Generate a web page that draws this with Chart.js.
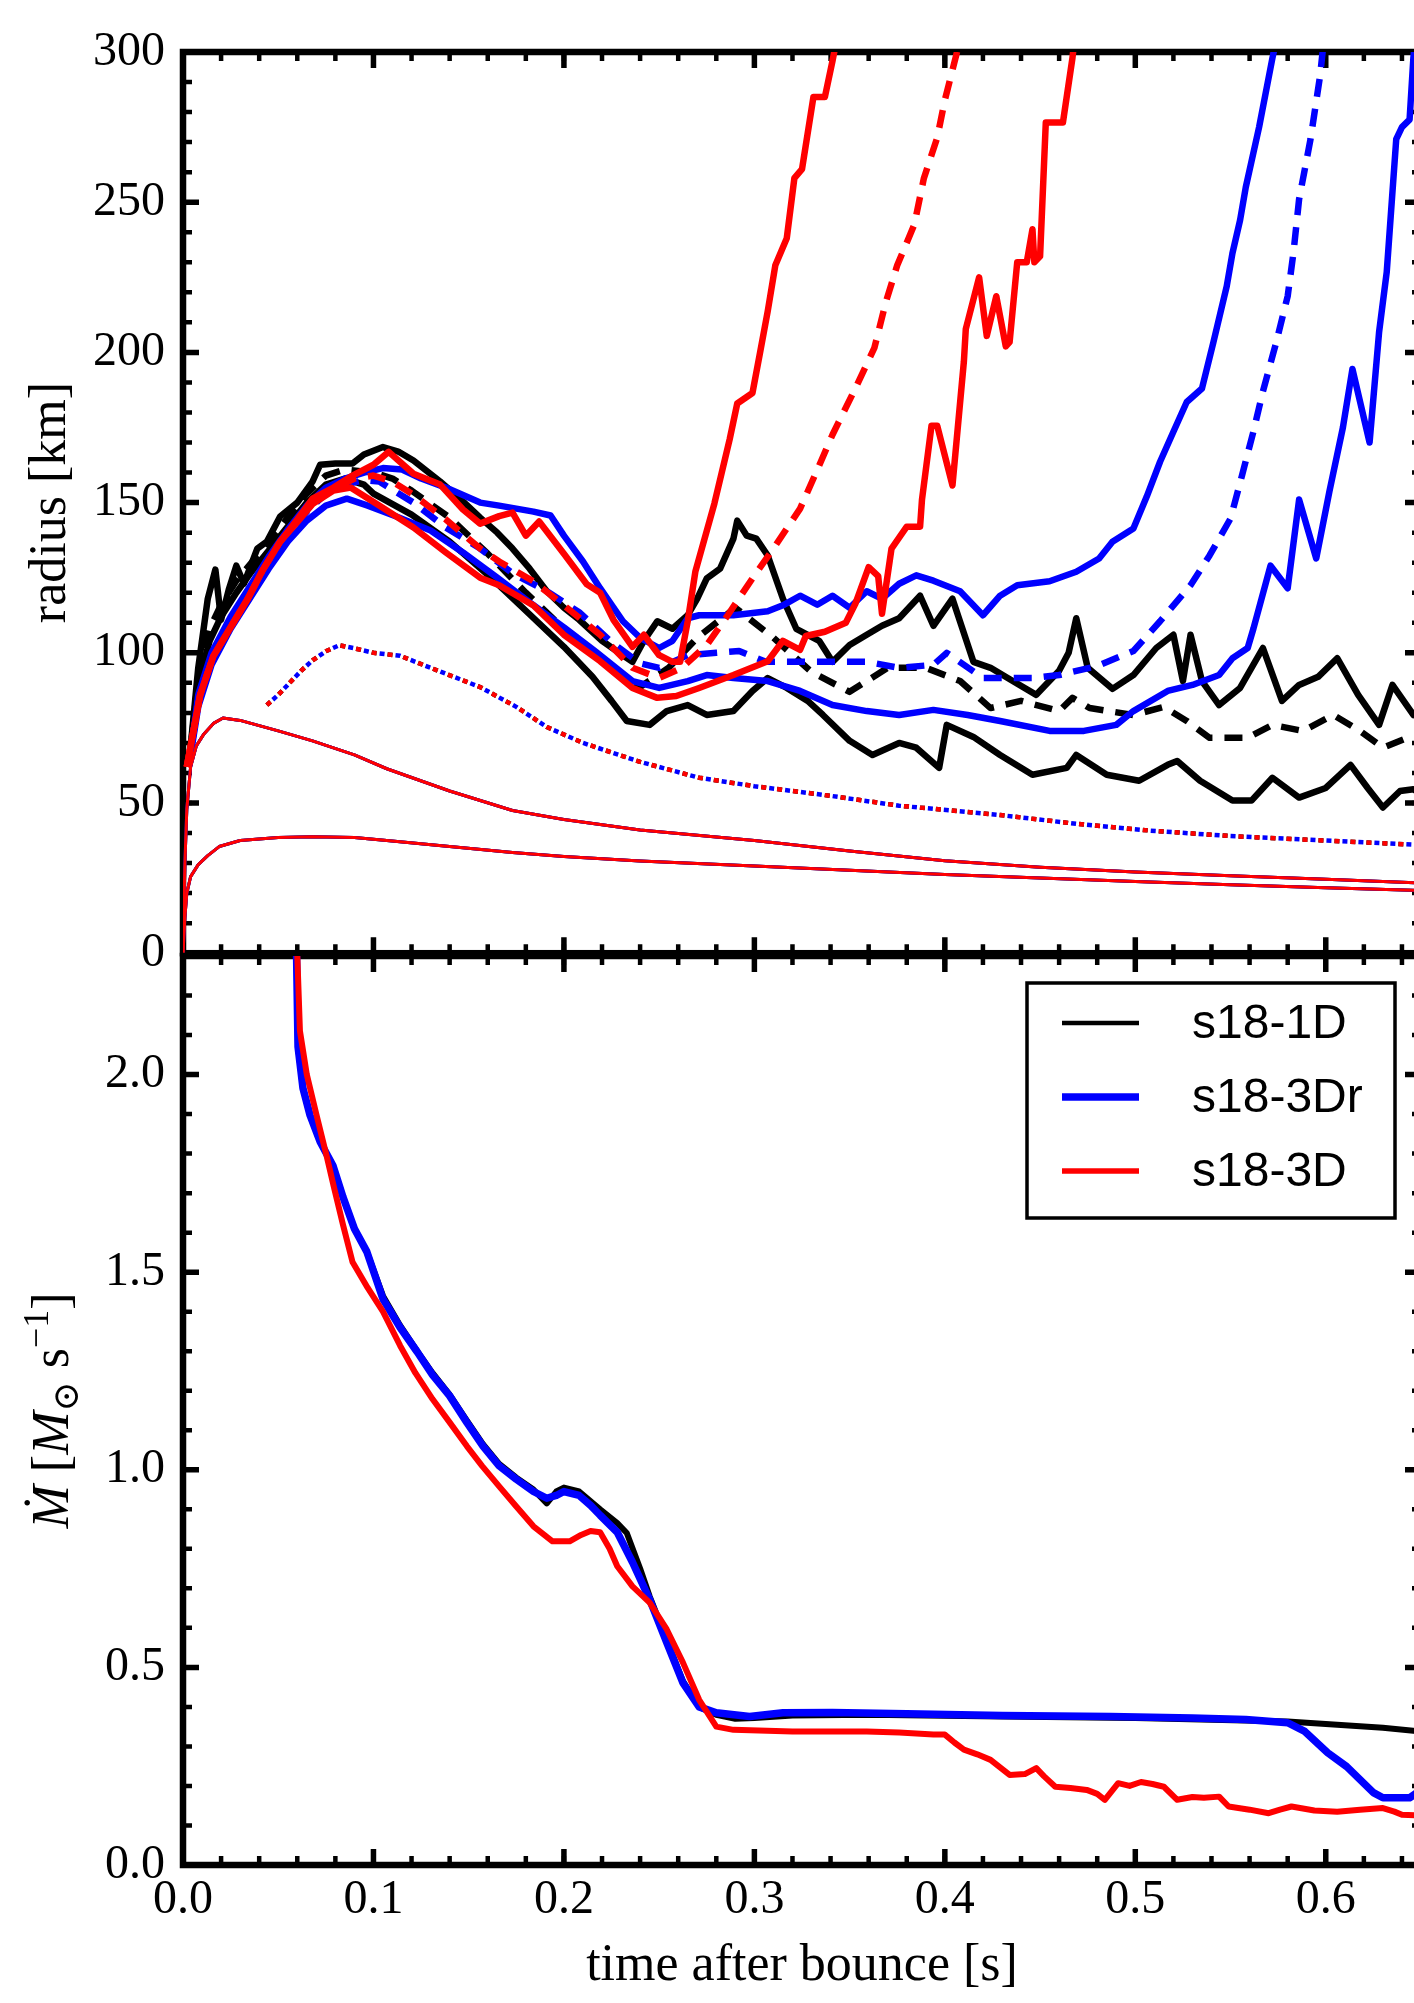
<!DOCTYPE html>
<html>
<head>
<meta charset="utf-8">
<title>s18 shock radii and accretion rate</title>
<script src="https://cdn.jsdelivr.net/npm/chart.js@4.4.1/dist/chart.umd.min.js"></script>
<style>
  html, body { margin: 0; padding: 0; background: #fff; }
  body { width: 1414px; height: 2003px; overflow: hidden; position: relative; }
  canvas { position: absolute; left: 0; }
  #radiusChart { top: 0; }
  #mdotChart { top: 900px; }
</style>
</head>
<body>
<canvas id="radiusChart" width="1440" height="1000"></canvas>
<canvas id="mdotChart" width="1440" height="1103"></canvas>
<script>
// ---- models ----
const modelNames = ['s18-1D', 's18-3Dr', 's18-3D'];
const modelColors = ['#000000', '#0000ff', '#ff0000'];

// ---- tick labels ----
const timeTicks = [0, 0.1, 0.2, 0.3, 0.4, 0.5, 0.6];
const radiusTicks = [0, 50, 100, 150, 200, 250, 300];
const mdotTicks = [0, 0.5, 1.0, 1.5, 2.0];

// ---- shock radius [km] vs time after bounce [s]: max / mean / min ----
const blackMax = [[0.003,62],[0.008,95],[0.013,118],[0.017,127.7],[0.02,111],[0.024,121],[0.028,129],[0.032,123],[0.039,134.7],[0.044,137],[0.051,145.4],[0.06,150],[0.068,157],[0.072,162.6],[0.08,163],[0.089,163],[0.095,166],[0.105,168.5],[0.113,167],[0.121,164],[0.135,157],[0.146,151],[0.156,145],[0.165,140],[0.173,134.7],[0.182,128],[0.191,120.5],[0.2,115],[0.208,111],[0.22,104],[0.229,100],[0.236,97],[0.242,104],[0.249,110.5],[0.257,108],[0.265,112.5],[0.27,118],[0.275,124.8],[0.282,128],[0.289,138],[0.291,144],[0.296,139],[0.301,138],[0.307,132.4],[0.315,118],[0.322,108],[0.334,104],[0.341,97],[0.35,102.6],[0.359,106],[0.367,109],[0.376,111.5],[0.387,119],[0.394,109],[0.404,118],[0.415,97],[0.424,95],[0.433,91.6],[0.448,86],[0.46,94],[0.465,100],[0.469,111.5],[0.475,95],[0.488,88],[0.499,92.6],[0.511,101.6],[0.52,106],[0.525,90.6],[0.529,106],[0.535,90.6],[0.544,82.6],[0.555,88.3],[0.567,101.6],[0.577,84],[0.586,89.3],[0.596,92],[0.606,98.2],[0.617,86],[0.628,76],[0.635,89.3],[0.646,79.3],[0.65,82]];
const blackMean = [[0.003,62],[0.008,92],[0.014,108],[0.02,116],[0.028,124],[0.036,130],[0.045,137],[0.055,145],[0.065,153],[0.075,159],[0.085,161],[0.1,160],[0.11,158],[0.12,154],[0.14,145],[0.16,133],[0.18,120],[0.2,108],[0.22,97],[0.24,88.6],[0.255,95],[0.27,105],[0.29,115],[0.31,105],[0.33,93.6],[0.35,87],[0.37,95],[0.39,95],[0.408,90.6],[0.424,81.6],[0.44,84],[0.46,80.6],[0.467,85],[0.476,81.6],[0.499,79.3],[0.515,82],[0.527,77.3],[0.539,71.7],[0.559,71.7],[0.572,76],[0.588,74],[0.604,79.3],[0.618,74],[0.63,68.4],[0.643,71.7],[0.65,70]];
const blackMin = [[0.003,62],[0.008,90],[0.014,104],[0.02,112],[0.028,120],[0.036,127],[0.045,134],[0.055,142],[0.065,150],[0.075,156],[0.085,158],[0.095,156],[0.1,153],[0.12,146],[0.14,137],[0.16,126],[0.18,114],[0.2,102],[0.215,92],[0.225,84],[0.233,77.3],[0.245,76],[0.254,80.6],[0.265,82.6],[0.275,79.3],[0.289,80.6],[0.299,87.3],[0.307,91.6],[0.317,88.3],[0.328,84],[0.336,79.3],[0.35,70.7],[0.362,66],[0.376,70],[0.385,68.4],[0.397,61.7],[0.401,76],[0.415,72],[0.429,66],[0.446,59.4],[0.464,61.7],[0.469,66],[0.485,59.4],[0.502,57.4],[0.517,62.7],[0.522,64],[0.534,57.4],[0.551,50.8],[0.561,50.8],[0.572,58.4],[0.586,51.8],[0.6,55],[0.613,62.7],[0.622,55],[0.63,48.5],[0.639,54],[0.646,54.6],[0.65,53]];

const blueMax = [[0.003,62],[0.008,86],[0.015,100],[0.025,112],[0.035,122],[0.045,132],[0.055,141],[0.065,149],[0.075,155],[0.085,158],[0.095,160],[0.105,161.5],[0.115,161],[0.125,158],[0.138,155],[0.156,150],[0.166,149],[0.184,147],[0.193,145.7],[0.2,139],[0.21,130.4],[0.219,121.5],[0.231,110.5],[0.24,105],[0.25,101.6],[0.257,104],[0.265,111.5],[0.271,112.5],[0.289,112.5],[0.307,113.8],[0.315,115.8],[0.324,119],[0.333,116],[0.341,119],[0.35,115],[0.359,120.5],[0.367,118],[0.376,123],[0.385,125.8],[0.394,124],[0.408,120.5],[0.42,112.5],[0.429,119],[0.438,122.5],[0.455,123.8],[0.469,127],[0.481,131.4],[0.488,137],[0.499,141.4],[0.506,152],[0.513,163.6],[0.52,173.6],[0.527,183.5],[0.535,188],[0.541,203.4],[0.548,222],[0.551,233],[0.555,244],[0.558,255],[0.565,275],[0.572,298],[0.576,310]];
const blueMean = [[0.003,62],[0.008,84],[0.015,98],[0.025,110],[0.035,120],[0.045,130],[0.055,139],[0.065,147],[0.075,153],[0.085,156],[0.095,157.5],[0.103,157],[0.121,150],[0.138,141.7],[0.156,134.7],[0.173,126.5],[0.191,120.5],[0.208,113.5],[0.226,103],[0.24,96.5],[0.25,95],[0.265,99.2],[0.28,100],[0.292,100.6],[0.306,97],[0.324,97],[0.341,97],[0.359,97],[0.376,95],[0.394,96],[0.401,100],[0.42,91.6],[0.446,91.6],[0.46,92.6],[0.48,95.6],[0.499,100.6],[0.513,110.5],[0.529,122.5],[0.539,132.4],[0.55,144.7],[0.556,159],[0.562,173.6],[0.567,187],[0.574,203.4],[0.58,218.7],[0.583,233],[0.586,251],[0.592,271],[0.597,292],[0.6,310]];
const blueMin = [[0.003,62],[0.008,82],[0.015,96],[0.025,108],[0.035,118],[0.045,128],[0.055,137],[0.065,144],[0.075,149],[0.086,151.3],[0.097,149],[0.112,145.4],[0.13,140.7],[0.147,133.4],[0.165,125],[0.182,116.8],[0.2,108.5],[0.217,100.2],[0.236,90.6],[0.25,88.3],[0.265,90.6],[0.275,92.6],[0.289,91.6],[0.307,90.6],[0.324,87.3],[0.341,82.6],[0.359,80.6],[0.376,79.3],[0.394,81],[0.412,79.3],[0.429,77.3],[0.455,74],[0.473,74],[0.49,76],[0.499,80.6],[0.517,87.3],[0.53,89.3],[0.544,92.6],[0.551,98.2],[0.559,101.6],[0.562,108],[0.571,129],[0.58,121.5],[0.586,151],[0.595,131.4],[0.602,154],[0.609,175],[0.614,194.5],[0.623,170],[0.628,206.8],[0.632,226.7],[0.637,271],[0.64,275],[0.644,277.5],[0.646,298],[0.648,310]];

const redMax = [[0.002,62],[0.009,86],[0.016,99],[0.025,108.5],[0.034,118],[0.042,127.7],[0.051,137],[0.06,144.4],[0.068,151.3],[0.079,155],[0.089,159],[0.1,162.6],[0.108,166.9],[0.121,159.6],[0.135,156],[0.147,147.7],[0.156,143],[0.166,145.5],[0.173,146.7],[0.18,139],[0.187,143.7],[0.2,133],[0.212,122.8],[0.219,120],[0.226,111],[0.236,102],[0.242,106],[0.25,99.2],[0.257,97],[0.261,97],[0.265,110.5],[0.269,127],[0.279,149.7],[0.287,171],[0.291,183],[0.299,186.5],[0.303,200],[0.307,213.7],[0.311,229],[0.317,238],[0.321,258],[0.325,261],[0.331,285],[0.337,285],[0.341,297],[0.345,310]];
const redMean = [[0.002,62],[0.009,86],[0.016,99],[0.025,108.5],[0.034,118],[0.042,127.7],[0.051,137],[0.06,144],[0.068,150.5],[0.079,154.5],[0.09,158],[0.1,159],[0.11,157],[0.121,152.6],[0.138,144.4],[0.156,134.7],[0.166,130.4],[0.184,123.8],[0.2,115.8],[0.219,106],[0.236,95],[0.25,91.6],[0.262,95],[0.275,102.6],[0.286,112.5],[0.299,124.8],[0.31,134.7],[0.324,148],[0.334,162.3],[0.341,172.6],[0.353,188],[0.363,201.5],[0.369,216.7],[0.375,229],[0.384,242.6],[0.389,258],[0.396,271.5],[0.4,284],[0.406,299],[0.41,310]];
const redMin = [[0.002,62],[0.009,86],[0.016,99],[0.025,108.5],[0.034,118],[0.042,127.7],[0.051,137],[0.06,143.5],[0.068,149.5],[0.079,154],[0.088,155],[0.103,149],[0.121,141.7],[0.138,133.4],[0.156,125],[0.166,122.5],[0.184,115.8],[0.2,106],[0.219,97.2],[0.236,88.3],[0.249,85],[0.259,85.6],[0.271,88.3],[0.289,92.6],[0.307,97.2],[0.315,104],[0.324,101],[0.327,105.6],[0.337,107],[0.348,110],[0.353,116.3],[0.36,128.5],[0.365,125.5],[0.367,113],[0.372,134.7],[0.38,142],[0.387,142],[0.388,151],[0.393,175.6],[0.396,175.6],[0.404,155.7],[0.41,197],[0.411,207.8],[0.418,225],[0.422,205.5],[0.427,218.7],[0.432,202],[0.434,203.4],[0.438,230],[0.443,230],[0.446,241],[0.447,230],[0.45,232],[0.453,276.5],[0.462,276.5],[0.467,298],[0.469,310]];

// ---- inner radii, nearly identical for all three models ----
const gainRadius = [[0.044,82.6],[0.05,86],[0.056,90],[0.062,94],[0.068,97.5],[0.075,100.5],[0.082,102.5],[0.09,101.5],[0.1,100],[0.114,99],[0.13,95],[0.156,88.6],[0.175,82],[0.191,75.3],[0.21,70],[0.24,63.7],[0.271,58.4],[0.3,55.6],[0.341,52.3],[0.376,49.1],[0.429,46],[0.47,43],[0.508,40.8],[0.55,39],[0.6,37.5],[0.65,36]];
const nuSphereRadius = [[0,0],[0.001,30],[0.002,48],[0.004,62],[0.007,69],[0.011,73],[0.016,76.5],[0.021,78.3],[0.03,77.5],[0.05,74],[0.068,70.7],[0.09,66],[0.107,61.4],[0.14,54],[0.173,47.5],[0.2,44.5],[0.24,41],[0.3,37.5],[0.35,34],[0.4,30.8],[0.45,28.6],[0.5,27],[0.55,25.8],[0.6,24.6],[0.65,23.4]];
const pnsRadius = [[0,0],[0.001,12],[0.002,20],[0.004,25.5],[0.008,29.5],[0.013,32.5],[0.019,35.5],[0.03,37.5],[0.05,38.5],[0.068,38.8],[0.09,38.5],[0.107,37.5],[0.14,35.5],[0.173,33.5],[0.2,32.2],[0.24,30.7],[0.3,29],[0.35,27.6],[0.4,26.2],[0.45,25],[0.5,23.9],[0.55,22.8],[0.6,21.8],[0.65,20.9]];

// ---- mass accretion rate [Msun/s] ----
const mdotBlack = [[0.0593,2.4],[0.0604,2.07],[0.063,1.965],[0.0667,1.897],[0.072,1.83],[0.0787,1.77],[0.084,1.69],[0.09,1.61],[0.0965,1.552],[0.105,1.44],[0.114,1.365],[0.123,1.3],[0.131,1.245],[0.14,1.19],[0.149,1.125],[0.1575,1.065],[0.166,1.015],[0.175,0.98],[0.184,0.95],[0.191,0.915],[0.196,0.945],[0.2,0.955],[0.208,0.945],[0.219,0.9],[0.228,0.865],[0.233,0.84],[0.24,0.75],[0.245,0.68],[0.254,0.57],[0.2625,0.465],[0.271,0.4],[0.28,0.38],[0.29,0.37],[0.3,0.372],[0.32,0.378],[0.36,0.38],[0.43,0.376],[0.5,0.372],[0.58,0.363],[0.606,0.355],[0.63,0.347],[0.65,0.338]];
const mdotBlue = [[0.0593,2.4],[0.0604,2.07],[0.063,1.965],[0.0667,1.897],[0.072,1.83],[0.0787,1.77],[0.084,1.69],[0.09,1.61],[0.0965,1.552],[0.105,1.432],[0.114,1.36],[0.123,1.298],[0.131,1.24],[0.14,1.187],[0.149,1.12],[0.1575,1.06],[0.166,1.01],[0.175,0.976],[0.184,0.945],[0.191,0.928],[0.196,0.935],[0.2,0.945],[0.208,0.935],[0.214,0.91],[0.219,0.885],[0.228,0.842],[0.236,0.766],[0.245,0.672],[0.254,0.563],[0.2625,0.461],[0.271,0.4],[0.28,0.385],[0.2975,0.376],[0.315,0.385],[0.341,0.386],[0.38,0.383],[0.43,0.378],[0.487,0.376],[0.53,0.372],[0.558,0.368],[0.58,0.36],[0.589,0.338],[0.601,0.284],[0.611,0.249],[0.625,0.183],[0.63,0.17],[0.644,0.17],[0.65,0.19]];
const mdotRed = [[0.0593,2.4],[0.0614,2.11],[0.065,2.0],[0.07,1.9],[0.0756,1.79],[0.079,1.72],[0.084,1.62],[0.089,1.526],[0.097,1.46],[0.105,1.4],[0.114,1.314],[0.122,1.245],[0.131,1.179],[0.14,1.12],[0.149,1.06],[0.157,1.01],[0.166,0.958],[0.175,0.907],[0.184,0.857],[0.194,0.819],[0.203,0.819],[0.209,0.835],[0.214,0.845],[0.219,0.842],[0.224,0.8],[0.228,0.756],[0.236,0.705],[0.245,0.664],[0.254,0.596],[0.2625,0.512],[0.271,0.418],[0.28,0.35],[0.289,0.342],[0.32,0.338],[0.359,0.338],[0.376,0.335],[0.394,0.33],[0.4,0.33],[0.405,0.31],[0.41,0.292],[0.417,0.28],[0.424,0.266],[0.434,0.228],[0.442,0.23],[0.448,0.245],[0.452,0.225],[0.458,0.198],[0.466,0.195],[0.4745,0.19],[0.48,0.18],[0.484,0.165],[0.491,0.207],[0.497,0.2],[0.503,0.21],[0.509,0.205],[0.515,0.198],[0.522,0.165],[0.53,0.172],[0.536,0.17],[0.544,0.173],[0.549,0.148],[0.56,0.14],[0.57,0.131],[0.576,0.14],[0.582,0.148],[0.594,0.138],[0.606,0.135],[0.618,0.14],[0.63,0.144],[0.636,0.135],[0.64,0.127],[0.65,0.125]];

const SERIF = "'Liberation Serif', 'DejaVu Serif', serif";
const SANS = "'Liberation Sans', 'DejaVu Sans', sans-serif";
const DASHED = [18, 12];
const DOTTED = [5, 11];

function line(label, pts, color, width, order, dash, dashOffset) {
    return {
        label,
        data: pts.map(([x, y]) => ({ x, y })),
        borderColor: color,
        borderWidth: width,
        borderDash: dash || [],
        borderDashOffset: dashOffset || 0,
        borderJoinStyle: 'round',
        pointRadius: 0,
        fill: false,
        tension: 0,
        order
    };
}

// red drawn on top, then blue, black underneath
const radiusSets = [];
[[blackMax, blackMean, blackMin], [blueMax, blueMean, blueMin], [redMax, redMean, redMin]].forEach((group, i) => {
    const c = modelColors[i], ord = 2 - i, name = modelNames[i];
    radiusSets.push(line(name + ' pns', pnsRadius, c, 3, ord));
    radiusSets.push(line(name + ' nusphere', nuSphereRadius, c, 3, ord));
    radiusSets.push(line(name + ' gain', gainRadius, c, 4.5, ord, DOTTED, i === 1 ? 8 : 0));
    radiusSets.push(line(name + ' max', group[0], c, 6.5, ord));
    radiusSets.push(line(name + ' mean', group[1], c, 6.5, ord, DASHED));
    radiusSets.push(line(name + ' min', group[2], c, 6.5, ord));
});

const mdotWidths = [6, 7.5, 6];
const mdotSets = [mdotBlack, mdotBlue, mdotRed].map((pts, i) =>
    line(modelNames[i], pts, modelColors[i], mdotWidths[i], 2 - i));

// closed frame with inward ticks on all four sides
const frameTicks = {
    id: 'frameTicks',
    beforeDatasetsDraw(chart, args, opts) {
        const { ctx, chartArea: a } = chart;
        const xs = chart.scales.x, ys = chart.scales.y;
        const steps = (scale, step) => {
            const n = Math.floor((scale.max - scale.min) / step + 1e-6);
            const out = [];
            for (let i = 0; i <= n; i++) out.push(scale.min + i * step);
            return out;
        };
        const vTick = (px, len) => {
            ctx.beginPath();
            ctx.moveTo(px, a.top); ctx.lineTo(px, a.top + len);
            ctx.moveTo(px, a.bottom); ctx.lineTo(px, a.bottom - len);
            ctx.stroke();
        };
        const hTick = (py, len) => {
            ctx.beginPath();
            ctx.moveTo(a.left, py); ctx.lineTo(a.left + len, py);
            ctx.moveTo(a.right, py); ctx.lineTo(a.right - len, py);
            ctx.stroke();
        };
        ctx.save();
        ctx.strokeStyle = '#000';
        ctx.lineWidth = 4.5;
        steps(xs, opts.xMinor).forEach(v => vTick(xs.getPixelForValue(v), 9));
        steps(ys, opts.yMinor).forEach(v => hTick(ys.getPixelForValue(v), 9));
        ctx.lineWidth = 5.5;
        xs.ticks.forEach(t => vTick(xs.getPixelForValue(t.value), 16));
        ys.ticks.forEach(t => hTick(ys.getPixelForValue(t.value), 16));
        ctx.lineWidth = 6.5;
        ctx.strokeRect(a.left, a.top, a.width, a.height);
        ctx.restore();
    }
};

const mdotLegend = {
    id: 'mdotLegend',
    afterDraw(chart) {
        const { ctx, chartArea: a } = chart;
        const w = 368, h = 235;
        const left = a.right - 26 - w, top = a.top + 27;
        ctx.save();
        ctx.fillStyle = '#fff';
        ctx.fillRect(left, top, w, h);
        ctx.strokeStyle = '#000';
        ctx.lineWidth = 3.5;
        ctx.strokeRect(left, top, w, h);
        ctx.font = '48px ' + SANS;
        ctx.textBaseline = 'middle';
        const legendWidths = [4.5, 7.5, 5.5];
        modelNames.forEach((name, i) => {
            const y = top + 40 + i * 74;
            ctx.strokeStyle = modelColors[i];
            ctx.lineWidth = legendWidths[i];
            ctx.beginPath();
            ctx.moveTo(left + 35, y);
            ctx.lineTo(left + 112, y);
            ctx.stroke();
            ctx.fillStyle = '#000';
            ctx.fillText(name, left + 165, y + 2);
        });
        ctx.restore();
    }
};

// rotated y title with dot, subscript and superscript
const mdotTitle = {
    id: 'mdotTitle',
    afterDraw(chart) {
        const { ctx, chartArea: a } = chart;
        const big = 52, small = 36;
        const parts = [
            { t: 'Ṁ', f: 'italic ' + big + 'px ' + SERIF, dy: 0 },
            { t: ' [', f: big + 'px ' + SERIF, dy: 0 },
            { t: 'M', f: 'italic ' + big + 'px ' + SERIF, dy: 0 },
            { t: '⊙', f: small + 'px ' + SERIF, dy: 10 },
            { t: ' s', f: big + 'px ' + SERIF, dy: 0 },
            { t: '−1', f: small + 'px ' + SERIF, dy: -20 },
            { t: ']', f: big + 'px ' + SERIF, dy: 0 }
        ];
        ctx.save();
        ctx.fillStyle = '#000';
        ctx.textBaseline = 'alphabetic';
        let total = 0;
        parts.forEach(p => { ctx.font = p.f; p.w = ctx.measureText(p.t).width; total += p.w; });
        ctx.translate(51, (a.top + a.bottom) / 2);
        ctx.rotate(-Math.PI / 2);
        let x = -total / 2;
        parts.forEach(p => { ctx.font = p.f; ctx.fillText(p.t, x, 17 + p.dy); x += p.w; });
        ctx.restore();
    }
};

const tickFont = { family: SERIF, size: 48 };
const noGrid = { display: false, drawTicks: false };

new Chart(document.getElementById('radiusChart'), {
    type: 'line',
    data: { datasets: radiusSets },
    options: {
        responsive: false,
        animation: false,
        devicePixelRatio: 1,
        events: [],
        layout: { padding: { left: 0, right: 19, top: 52, bottom: 44 } },
        plugins: {
            legend: { display: false },
            tooltip: { enabled: false },
            frameTicks: { xMinor: 0.02, yMinor: 10 }
        },
        scales: {
            x: {
                type: 'linear', min: 0, max: 0.65,
                grid: noGrid, border: { display: false },
                ticks: { display: false },
                afterBuildTicks: s => { s.ticks = timeTicks.map(v => ({ value: v })); },
                afterFit: s => { s.height = 0; }
            },
            y: {
                type: 'linear', min: 0, max: 300,
                grid: noGrid, border: { display: false },
                ticks: { font: tickFont, color: '#000', padding: 18 },
                afterBuildTicks: s => { s.ticks = radiusTicks.map(v => ({ value: v })); },
                title: {
                    display: true, text: 'radius [km]', color: '#000',
                    font: { family: SERIF, size: 52 }, padding: { top: 20, bottom: 0 }
                },
                afterFit: s => { s.width = 183; }
            }
        }
    },
    plugins: [frameTicks]
});

new Chart(document.getElementById('mdotChart'), {
    type: 'line',
    data: { datasets: mdotSets },
    options: {
        responsive: false,
        animation: false,
        devicePixelRatio: 1,
        events: [],
        layout: { padding: { left: 0, right: 19, top: 56, bottom: 0 } },
        plugins: {
            legend: { display: false },
            tooltip: { enabled: false },
            frameTicks: { xMinor: 0.02, yMinor: 0.1 }
        },
        scales: {
            x: {
                type: 'linear', min: 0, max: 0.65,
                grid: noGrid, border: { display: false },
                ticks: { font: tickFont, color: '#000', padding: 7, maxRotation: 0, callback: v => v.toFixed(1) },
                afterBuildTicks: s => { s.ticks = timeTicks.map(v => ({ value: v })); },
                title: {
                    display: true, text: 'time after bounce [s]', color: '#000',
                    font: { family: SERIF, size: 52 }, padding: { top: 0, bottom: 5 }
                },
                afterFit: s => { s.height = 138; }
            },
            y: {
                type: 'linear', min: 0, max: 2.3,
                grid: noGrid, border: { display: false },
                ticks: { font: tickFont, color: '#000', padding: 18, callback: v => v.toFixed(1) },
                afterBuildTicks: s => { s.ticks = mdotTicks.map(v => ({ value: v })); },
                afterFit: s => { s.width = 183; }
            }
        }
    },
    plugins: [frameTicks, mdotLegend, mdotTitle]
});
</script>
</body>
</html>
